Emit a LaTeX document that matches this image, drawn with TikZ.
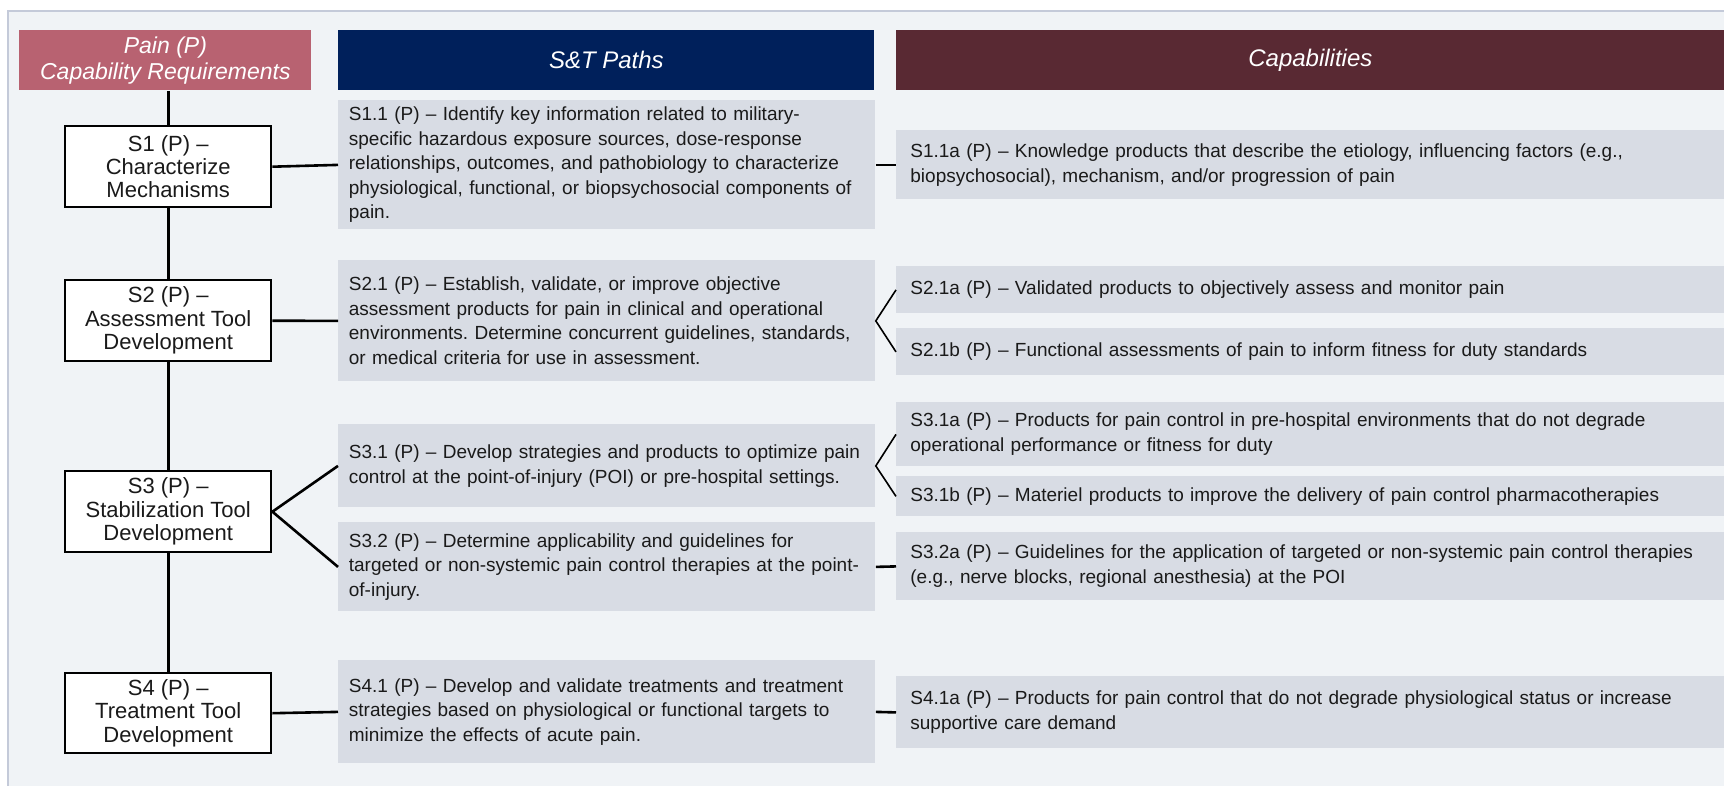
\documentclass[tikz,border=0pt]{standalone}
\usepackage{fontspec}
\setmainfont{Liberation Sans}
\usetikzlibrary{positioning,calc}
\definecolor{bgpanel}{HTML}{F0F3F6}
\definecolor{panelline}{HTML}{C4CAD9}
\definecolor{boxgray}{HTML}{D8DCE4}
\definecolor{reqpink}{HTML}{B86271}
\definecolor{pathnavy}{HTML}{00205B}
\definecolor{capmaroon}{HTML}{592933}
\definecolor{txt}{HTML}{1A1A1A}
\frenchspacing
\begin{document}
\begin{tikzpicture}[x=0.5pt,y=-0.5pt,
  hdr/.style={anchor=north west,inner sep=0pt,minimum height=30pt,text=white,font=\fontsize{12}{13}\selectfont\itshape,align=center},
  req/.style={anchor=north west,draw=black,line width=1.2pt,fill=white,inner sep=0pt,minimum width=103pt,minimum height=40.5pt,align=center,text=txt,font=\fontsize{11}{11.7}\selectfont},
  stpath/.style={anchor=north west,fill=boxgray,inner xsep=5.25pt,inner ysep=0pt,text width=258pt,align=left,text=txt,font=\fontsize{9.5}{12.25}\selectfont},
  capbox/.style={anchor=north west,fill=boxgray,inner xsep=7pt,inner ysep=0pt,text width=400pt,align=left,text=txt,font=\fontsize{9.5}{12.5}\selectfont},
  link/.style={line width=1.3pt},
  fork/.style={line width=0.8pt}]
\useasboundingbox (0,0) rectangle (1724,786);
\fill[bgpanel] (8,11) rectangle (1724,786);
\draw[panelline,line width=1pt] (8,786) -- (8,11) -- (1724,11);

\node[hdr,fill=reqpink,minimum width=146pt,font=\fontsize{11.5}{13}\selectfont\itshape] (reqhdr) at (19,30) {Pain (P)\\Capability Requirements};
\node[hdr,fill=pathnavy,minimum width=268pt] (pathhdr) at (338,30) {S\&T Paths};
\node[hdr,fill=capmaroon,minimum width=414pt] (caphdr) at (896,30) {Capabilities};

\node[req] (s1) at (64,125) {S1 (P) –\\Characterize\\Mechanisms};
\node[req] (s2) at (64,279) {S2 (P) –\\Assessment Tool\\Development};
\node[req] (s3) at (64,470) {S3 (P) –\\Stabilization Tool\\Development};
\node[req,minimum height=40pt] (s4) at (64,672) {S4 (P) –\\Treatment Tool\\Development};

\node[stpath,minimum height=64.5pt] (p11) at (338,100) {S1.1 (P) – Identify key information related to military-\\specific hazardous exposure sources, dose-response\\relationships, outcomes, and pathobiology to characterize\\physiological, functional, or biopsychosocial components of\\pain.};
\node[stpath,minimum height=60.5pt] (p21) at (338,260) {S2.1 (P) – Establish, validate, or improve objective\\assessment products for pain in clinical and operational\\environments. Determine concurrent guidelines, standards,\\or medical criteria for use in assessment.};
\node[stpath,minimum height=41.5pt] (p31) at (338,424) {S3.1 (P) – Develop strategies and products to optimize pain\\control at the point-of-injury (POI) or pre-hospital settings.};
\node[stpath,minimum height=44.5pt] (p32) at (338,522) {S3.2 (P) – Determine applicability and guidelines for\\targeted or non-systemic pain control therapies at the point-\\of-injury.};
\node[stpath,minimum height=51.5pt] (p41) at (338,660) {S4.1 (P) – Develop and validate treatments and treatment\\strategies based on physiological or functional targets to\\minimize the effects of acute pain.};

\node[capbox,minimum height=34.5pt] (c11a) at (896,130) {S1.1a (P) – Knowledge products that describe the etiology, influencing factors (e.g.,\\biopsychosocial), mechanism, and/or progression of pain};
\node[capbox,minimum height=23.5pt] (c21a) at (896,266) {S2.1a (P) – Validated products to objectively assess and monitor pain};
\node[capbox,minimum height=23.5pt] (c21b) at (896,328) {S2.1b (P) – Functional assessments of pain to inform fitness for duty standards};
\node[capbox,minimum height=32pt] (c31a) at (896,402) {S3.1a (P) – Products for pain control in pre-hospital environments that do not degrade\\operational performance or fitness for duty};
\node[capbox,minimum height=20pt] (c31b) at (896,476) {S3.1b (P) – Materiel products to improve the delivery of pain control pharmacotherapies};
\node[capbox,minimum height=34pt] (c32a) at (896,532) {S3.2a (P) – Guidelines for the application of targeted or non-systemic pain control therapies\\(e.g., nerve blocks, regional anesthesia) at the POI};
\node[capbox,minimum height=36pt] (c41a) at (896,676) {S4.1a (P) – Products for pain control that do not degrade physiological status or increase\\supportive care demand};

\draw[link] (reqhdr.south -| s1.north) -- (s1.north) (s1.south) -- (s2.north) (s2.south) -- (s3.north) (s3.south) -- (s4.north);
\draw[link] (s1.east) -- (p11.west);
\draw[link] (s2.east) -- (p21.west);
\draw[link] (p31.west) -- (s3.east) -- (p32.west);
\draw[link] (s4.east) -- (p41.west);
\draw[link] (p11.east) -- (c11a.west);
\draw[fork] (c21a.west) -- (p21.east) -- (c21b.west);
\draw[fork] (c31a.west) -- (p31.east) -- (c31b.west);
\draw[link] (p32.east) -- (c32a.west);
\draw[link] (p41.east) -- (c41a.west);
\end{tikzpicture}
\end{document}
